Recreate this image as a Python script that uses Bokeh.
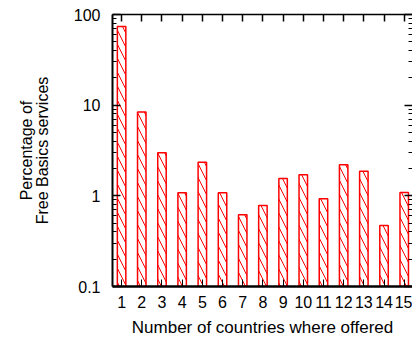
from bokeh.plotting import figure
from bokeh.models import LogAxis, LinearAxis, FixedTicker, CustomJSTickFormatter, Range1d
from bokeh.embed import file_html
from bokeh.resources import INLINE

# Data
countries = list(range(1, 16))
percentages = [73.8, 8.4, 2.98, 1.08, 2.35, 1.08, 0.62, 0.78, 1.55, 1.71, 0.93, 2.2, 1.87, 0.47, 1.09]
x_tick_labels = [str(c) for c in countries]
y_major = [0.1, 1, 10, 100]
y_minor = [m * 10.0 ** e for e in (-1, 0, 1) for m in range(2, 10)]

FONT = "Liberation Sans"

p = figure(width=412, height=339, output_backend="svg", toolbar_location=None,
           y_axis_type="log", x_range=Range1d(0.55, 15.41), y_range=Range1d(0.1, 100),
           min_border_left=112, min_border_top=14, min_border_right=0, min_border_bottom=8)
p.outline_line_color = None
p.xgrid.visible = False
p.ygrid.visible = False
p.background_fill_color = "white"
p.border_fill_color = "white"

p.vbar(x=countries, top=percentages, bottom=0.1, width=0.42,
       fill_color=None, line_color="#ff0000", line_width=1.5,
       hatch_pattern="\\", hatch_color="#ff0000", hatch_weight=1, hatch_scale=14)

fmt = CustomJSTickFormatter(code="return String(Math.round(tick*1000)/1000);")
blank = CustomJSTickFormatter(code="return '';")
yt = FixedTicker(ticks=y_major, minor_ticks=y_minor)
xt = FixedTicker(ticks=countries, minor_ticks=[])

# left axis
ya = p.yaxis[0]
ya.ticker = yt
ya.formatter = fmt
ya.major_tick_in = 8
ya.major_tick_out = 0
ya.minor_tick_in = 4
ya.minor_tick_out = 0
ya.axis_line_width = 2
ya.major_tick_line_width = 1.5
ya.major_label_standoff = 12
ya.major_label_text_font = FONT
ya.major_label_text_font_size = "16px"
ya.major_label_text_color = "black"
ya.axis_label = "Percentage of\nFree Basics services"
ya.axis_label_text_font = FONT
ya.axis_label_text_font_size = "16px"
ya.axis_label_text_font_style = "normal"
ya.axis_label_text_color = "black"
ya.axis_label_text_line_height = 0.95
ya.axis_label_standoff = 20

# bottom axis
xa = p.xaxis[0]
xa.ticker = xt
xa.major_label_overrides = {c: l for c, l in zip(countries, x_tick_labels)}
xa.major_tick_in = 7
xa.major_tick_out = 0
xa.minor_tick_in = 0
xa.minor_tick_out = 0
xa.axis_line_width = 2.5
xa.major_label_standoff = 9
xa.major_label_text_font = FONT
xa.major_label_text_font_size = "16px"
xa.major_label_text_color = "black"
xa.axis_label = "Number of countries where offered"
xa.axis_label_text_font = FONT
xa.axis_label_text_font_size = "17px"
xa.axis_label_text_font_style = "normal"
xa.axis_label_text_color = "black"
xa.axis_label_standoff = 7

# top axis (mirror ticks)
ta = LinearAxis(ticker=xt, formatter=blank, major_tick_in=7, major_tick_out=0,
                minor_tick_in=0, minor_tick_out=0, major_label_standoff=0,
                axis_line_width=1.5, major_tick_line_width=1.5)
p.add_layout(ta, "above")

# right axis (mirror ticks)
ra = LogAxis(ticker=yt, formatter=blank, major_tick_in=8, major_tick_out=0,
             minor_tick_in=4, minor_tick_out=0, major_label_standoff=0,
             axis_line_color=None, major_tick_line_width=1.5)
p.add_layout(ra, "right")

open("out.html", "w").write(file_html(p, INLINE))
